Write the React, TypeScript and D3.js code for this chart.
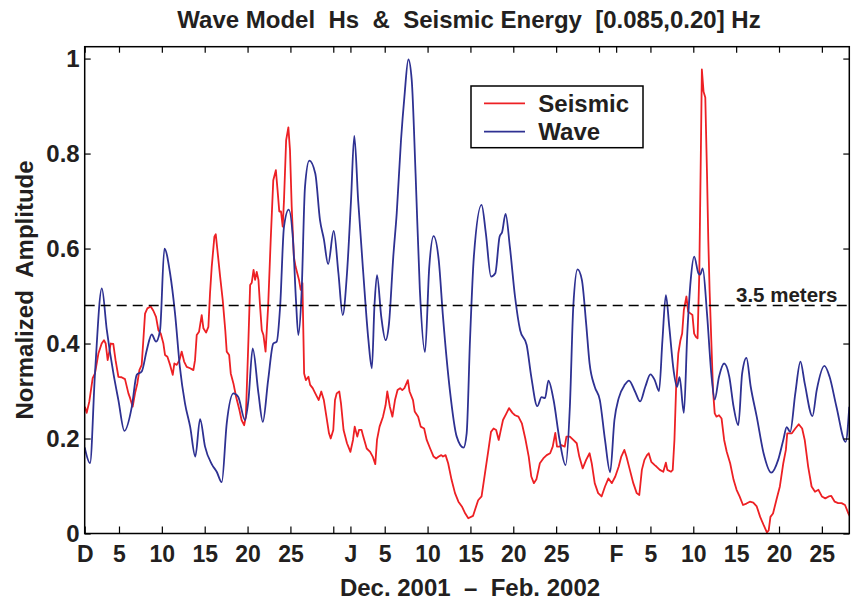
import { useEffect, useRef } from 'react';
import * as d3 from 'd3';

// Days counted from Dec 1 2001 (day 0).
const waveDays = [
  0, 0.62, 1.2, 2.0, 2.57, 3.35, 3.93, 4.63, 5.5, 6.07, 6.65, 7.24, 7.82, 8.32, 8.79, 9.3, 9.96, 10.54,
  11.1, 11.7, 12.3, 12.9, 13.46, 14.04, 14.82, 15.4, 15.99, 16.57, 17.35, 17.9, 18.7, 19.1, 19.6, 20.27,
  20.78, 21.4, 22.0, 22.4, 22.8, 23.25, 23.8, 24.3, 24.65, 24.92, 25.3, 25.7, 26.2, 26.9, 27.45, 27.9,
  28.4, 29.05, 29.6, 30.1, 30.6, 31.07, 31.45, 31.9, 32.5, 33.1, 33.5, 33.8, 34.1, 34.6, 35.1, 35.5,
  36.0, 36.4, 36.9, 37.3, 37.76, 38.15, 38.6, 39.1, 39.7, 40.2, 40.7, 41.3, 41.8, 42.6, 43.4, 44.2,
  44.56, 44.95, 45.4, 46.3, 46.8, 47.4, 47.9, 48.4, 48.7, 49.1, 49.6, 50.2, 50.8, 51.56, 52.1, 52.8,
  53.3, 53.7, 54.1, 54.7, 55.4, 56.1, 56.6, 57.0, 57.5, 58.0, 58.5, 58.9, 59.5, 60.1, 60.7, 61.3, 61.8,
  62.3, 63.0, 63.5, 64.2, 64.8, 65.4, 66.0, 66.5, 67.0, 67.4, 67.8, 68.2, 68.7, 69.1, 69.4, 69.9, 70.3,
  70.7, 71.1, 71.6, 71.8, 72.1, 72.6, 73.1, 73.5, 74.0, 74.6, 75.2, 75.7, 76.25, 76.7, 77.2, 77.7, 78.4,
  79.2, 80.1, 80.9, 81.5, 81.9, 82.3, 82.9, 83.5, 84.0, 84.9, 85.4, 86.3, 86.9, 87.7, 88.77, 89.2,
];
const waveValues = [
  0.181, 0.148, 0.337, 0.516, 0.43, 0.337, 0.281, 0.216, 0.267, 0.334, 0.341, 0.386, 0.419, 0.404, 0.428,
  0.6, 0.548, 0.463, 0.351, 0.274, 0.225, 0.162, 0.241, 0.183, 0.146, 0.13, 0.108, 0.232, 0.295, 0.288,
  0.239, 0.281, 0.39, 0.295, 0.235, 0.323, 0.4, 0.404, 0.478, 0.646, 0.682, 0.618, 0.49, 0.418, 0.506,
  0.73, 0.785, 0.758, 0.66, 0.62, 0.567, 0.637, 0.548, 0.46, 0.548, 0.702, 0.837, 0.702, 0.548, 0.407,
  0.348, 0.478, 0.544, 0.456, 0.407, 0.442, 0.583, 0.674, 0.828, 0.92, 0.998, 0.955, 0.758, 0.513, 0.382,
  0.562, 0.626, 0.576, 0.456, 0.302, 0.204, 0.181, 0.211, 0.407, 0.583, 0.692, 0.632, 0.541, 0.548,
  0.625, 0.635, 0.673, 0.604, 0.499, 0.428, 0.397, 0.33, 0.268, 0.287, 0.285, 0.322, 0.281, 0.197,
  0.144, 0.267, 0.478, 0.556, 0.534, 0.442, 0.358, 0.309, 0.281, 0.197, 0.129, 0.239, 0.285, 0.313,
  0.322, 0.299, 0.278, 0.309, 0.335, 0.323, 0.3, 0.407, 0.502, 0.435, 0.344, 0.309, 0.329, 0.254, 0.421,
  0.534, 0.583, 0.548, 0.545, 0.558, 0.463, 0.337, 0.282, 0.33, 0.358, 0.33, 0.267, 0.228, 0.337, 0.37,
  0.309, 0.246, 0.169, 0.128, 0.155, 0.197, 0.224, 0.214, 0.295, 0.362, 0.316, 0.247, 0.302, 0.353,
  0.33, 0.267, 0.193, 0.267,
];

const seismicDays = [
  0.03, 0.23, 0.54, 0.93, 1.2, 1.6, 1.98, 2.25, 2.45, 2.68, 2.87, 3.03, 3.34, 3.6, 3.93, 4.3, 4.7, 5.1,
  5.3, 5.6, 5.87, 6.14, 6.38, 6.65, 6.84, 7.04, 7.31, 7.7, 8.01, 8.32, 8.6, 8.87, 9.18, 9.37, 9.65, 9.96,
  10.27, 10.46, 10.74, 11.05, 11.32, 11.6, 11.9, 12.3, 12.68, 12.87, 13.07, 13.34, 13.65, 13.85, 14.16,
  14.43, 14.62, 14.82, 15.13, 15.29, 15.48, 15.8, 16.1, 16.4, 16.57, 16.85, 17.04, 17.35, 17.66, 18.05,
  18.3, 18.6, 18.8, 19.1, 19.3, 19.49, 19.7, 19.88, 20.07, 20.27, 20.46, 20.66, 20.85, 21.1, 21.4, 21.7,
  22.0, 22.3, 22.5, 22.7, 22.9, 23.1, 23.25, 23.5, 23.76, 23.95, 24.15, 24.4, 24.6, 24.8, 25.0, 25.2,
  25.4, 25.6, 25.8, 26.1, 26.3, 26.6, 26.9, 27.3, 27.6, 27.9, 28.2, 28.5, 28.7, 29.0, 29.2, 29.4, 29.7,
  29.9, 30.2, 30.6, 31.0, 31.3, 31.5, 31.8, 32.0, 32.3, 32.5, 32.9, 33.3, 33.6, 33.9, 34.1, 34.4, 34.8,
  35.1, 35.3, 35.6, 35.9, 36.2, 36.5, 36.8, 37.05, 37.3, 37.7, 37.9, 38.3, 38.5, 38.9, 39.2, 39.6, 39.9,
  40.3, 40.7, 41.0, 41.3, 41.6, 41.8, 42.1, 42.4, 42.8, 43.2, 43.6, 44.0, 44.4, 44.75, 45.3, 45.9, 46.3,
  46.7, 47.1, 47.4, 47.7, 48.0, 48.3, 48.5, 48.8, 49.2, 49.5, 49.9, 50.2, 50.6, 51.0, 51.4, 51.8, 52.1,
  52.4, 52.7, 53.1, 53.5, 53.9, 54.3, 54.6, 54.9, 55.1, 55.4, 55.6, 56.0, 56.2, 56.6, 57.0, 57.4, 57.7,
  58.1, 58.5, 58.9, 59.15, 59.5, 59.9, 60.3, 60.7, 61.1, 61.5, 61.9, 62.3, 62.6, 62.96, 63.2, 63.6, 64.0,
  64.4, 64.7, 65.0, 65.3, 65.6, 65.8, 66.1, 66.5, 66.7, 67.1, 67.5, 67.8, 67.97, 68.4, 68.6, 68.8, 69.0,
  69.25, 69.5, 69.7, 69.9, 70.2, 70.4, 70.7, 70.9, 71.1, 71.3, 71.5, 71.7, 71.9, 72.0, 72.2, 72.4, 72.6,
  72.75, 72.9, 73.1, 73.3, 73.5, 73.7, 74.0, 74.3, 74.6, 74.9, 75.3, 75.7, 76.05, 76.4, 76.8, 77.2, 77.6,
  78.0, 78.4, 78.8, 79.2, 79.6, 79.8, 80.0, 80.3, 80.7, 81.1, 81.5, 81.8, 81.96, 82.5, 82.9, 83.3, 83.7,
  84.0, 84.4, 84.8, 85.2, 85.6, 86.0, 86.4, 86.8, 87.1, 87.5, 87.9, 88.3, 88.7, 89.1, 89.3,
];
const seismicValues = [
  0.267, 0.254, 0.278, 0.327, 0.337, 0.379, 0.4, 0.407, 0.4, 0.365, 0.383, 0.4, 0.399, 0.365, 0.33,
  0.329, 0.325, 0.295, 0.285, 0.267, 0.295, 0.316, 0.344, 0.355, 0.407, 0.463, 0.474, 0.478, 0.469,
  0.456, 0.428, 0.421, 0.4, 0.376, 0.372, 0.355, 0.334, 0.358, 0.355, 0.365, 0.383, 0.362, 0.351, 0.348,
  0.344, 0.365, 0.418, 0.425, 0.46, 0.432, 0.423, 0.435, 0.506, 0.562, 0.625, 0.63, 0.597, 0.541, 0.492,
  0.428, 0.383, 0.376, 0.337, 0.316, 0.288, 0.26, 0.239, 0.228, 0.246, 0.407, 0.523, 0.528, 0.555,
  0.534, 0.551, 0.534, 0.478, 0.428, 0.418, 0.383, 0.478, 0.618, 0.744, 0.765, 0.723, 0.678, 0.678,
  0.646, 0.702, 0.828, 0.855, 0.807, 0.688, 0.583, 0.562, 0.548, 0.534, 0.513, 0.527, 0.337, 0.323,
  0.33, 0.313, 0.306, 0.295, 0.281, 0.299, 0.281, 0.246, 0.211, 0.2, 0.218, 0.281, 0.295, 0.299, 0.274,
  0.218, 0.19, 0.172, 0.197, 0.225, 0.204, 0.218, 0.218, 0.204, 0.179, 0.172, 0.162, 0.146, 0.197,
  0.225, 0.246, 0.27, 0.299, 0.267, 0.246, 0.281, 0.302, 0.306, 0.302, 0.306, 0.323, 0.299, 0.281,
  0.257, 0.246, 0.225, 0.221, 0.197, 0.179, 0.162, 0.158, 0.162, 0.165, 0.162, 0.165, 0.148, 0.113,
  0.085, 0.067, 0.057, 0.042, 0.032, 0.037, 0.07, 0.078, 0.127, 0.176, 0.214, 0.221, 0.218, 0.197,
  0.214, 0.239, 0.253, 0.264, 0.254, 0.249, 0.246, 0.232, 0.2, 0.162, 0.12, 0.106, 0.114, 0.148, 0.158,
  0.165, 0.169, 0.183, 0.212, 0.183, 0.183, 0.186, 0.183, 0.204, 0.204, 0.197, 0.19, 0.162, 0.137,
  0.155, 0.169, 0.148, 0.106, 0.085, 0.078, 0.099, 0.116, 0.106, 0.12, 0.141, 0.162, 0.176, 0.162,
  0.134, 0.106, 0.085, 0.081, 0.134, 0.155, 0.165, 0.169, 0.151, 0.144, 0.141, 0.134, 0.13, 0.149,
  0.134, 0.13, 0.134, 0.197, 0.309, 0.379, 0.407, 0.421, 0.471, 0.499, 0.467, 0.463, 0.46, 0.421,
  0.414, 0.411, 0.548, 0.828, 0.977, 0.93, 0.918, 0.758, 0.618, 0.513, 0.407, 0.302, 0.253, 0.246,
  0.249, 0.242, 0.197, 0.172, 0.148, 0.113, 0.092, 0.078, 0.06, 0.063, 0.067, 0.065, 0.057, 0.035,
  0.018, 0.002, 0.007, 0.035, 0.042, 0.071, 0.099, 0.148, 0.176, 0.211, 0.211, 0.221, 0.23, 0.221,
  0.197, 0.141, 0.099, 0.088, 0.092, 0.078, 0.074, 0.078, 0.079, 0.067, 0.064, 0.064, 0.06, 0.042, 0.035,
];

const xTickDays = [0, 4, 9, 14, 19, 24, 29, 31, 35, 40, 45, 50, 55, 60, 62, 66, 71, 76, 81, 86];
const xTickLabels = ['D', '5', '10', '15', '20', '25', '', 'J', '5', '10', '15', '20', '25', '', 'F', '5', '10', '15', '20', '25'];
const yTickValues = [0, 0.2, 0.4, 0.6, 0.8, 1];
const yTickLabels = ['0', '0.2', '0.4', '0.6', '0.8', '1'];
const thresholdValue = 0.48;
const thresholdLabel = '3.5 meters';
const seriesNames = ['Seismic', 'Wave'];

const FONT = "'Liberation Sans', Arial, Helvetica, sans-serif";
const INK = '#231f20';
const RED = '#ed2024';
const BLUE = '#2e3192';

export default function App() {
  const ref = useRef<SVGSVGElement | null>(null);

  useEffect(() => {
    const svg = d3.select(ref.current);
    svg.selectAll('*').remove();

    const width = 851;
    const height = 600;
    const margin = { top: 46.7, right: 1.7, bottom: 66.5, left: 84.7 };
    const x = d3.scaleLinear().domain([0, 89.2]).range([margin.left, width - margin.right]);
    const y = d3.scaleLinear().domain([0, 1.025]).range([height - margin.bottom, margin.top]);

    svg.attr('viewBox', `0 0 ${width} ${height}`).attr('width', width).attr('height', height);

    svg.append('defs').append('clipPath').attr('id', 'plot-clip')
      .append('rect')
      .attr('x', margin.left).attr('y', margin.top)
      .attr('width', width - margin.left - margin.right)
      .attr('height', height - margin.top - margin.bottom);

    const seismic = seismicDays.map((d, i) => [d, seismicValues[i]] as [number, number]);
    const wave = waveDays.map((d, i) => [d, waveValues[i]] as [number, number]);

    const plot = svg.append('g').attr('clip-path', 'url(#plot-clip)');
    plot.append('path')
      .attr('d', d3.line<[number, number]>().x((d) => x(d[0])).y((d) => y(d[1]))(seismic))
      .attr('fill', 'none').attr('stroke', RED).attr('stroke-width', 1.8).attr('stroke-linejoin', 'round');
    plot.append('path')
      .attr('d', d3.line<[number, number]>().x((d) => x(d[0])).y((d) => y(d[1])).curve(d3.curveMonotoneX)(wave))
      .attr('fill', 'none').attr('stroke', BLUE).attr('stroke-width', 1.8);

    // 3.5 m significant wave height reference
    plot.append('line')
      .attr('x1', x(0)).attr('x2', x(89.2))
      .attr('y1', y(thresholdValue)).attr('y2', y(thresholdValue))
      .attr('stroke', '#000').attr('stroke-width', 1.4).attr('stroke-dasharray', '10,6');

    const styleAxis = (sel: d3.Selection<SVGGElement, unknown, null, undefined>, size: number) => {
      sel.attr('font-family', FONT).attr('font-size', size).attr('font-weight', 'bold');
      sel.select('.domain').remove();
      sel.selectAll('.tick line').attr('stroke', '#000').attr('stroke-width', 1.2);
      sel.selectAll('.tick text').attr('fill', INK);
    };

    svg.append('g')
      .attr('transform', `translate(0,${y(0)})`)
      .call(d3.axisBottom(x).tickValues(xTickDays).tickFormat((_, i) => xTickLabels[i]).tickSizeInner(-7).tickSizeOuter(0).tickPadding(12))
      .call((s) => styleAxis(s, 23));
    svg.append('g')
      .attr('transform', `translate(0,${margin.top})`)
      .call(d3.axisTop(x).tickValues(xTickDays).tickFormat(() => '').tickSizeInner(-6).tickSizeOuter(0))
      .call((s) => styleAxis(s, 10));
    svg.append('g')
      .attr('transform', `translate(${margin.left},0)`)
      .call(d3.axisLeft(y).tickValues(yTickValues).tickFormat((_, i) => yTickLabels[i]).tickSizeInner(-6).tickSizeOuter(0).tickPadding(5))
      .call((s) => styleAxis(s, 24));
    svg.append('g')
      .attr('transform', `translate(${width - margin.right},0)`)
      .call(d3.axisRight(y).tickValues(yTickValues).tickFormat(() => '').tickSizeInner(-6).tickSizeOuter(0))
      .call((s) => styleAxis(s, 10));

    svg.append('rect')
      .attr('x', margin.left).attr('y', margin.top)
      .attr('width', width - margin.left - margin.right)
      .attr('height', height - margin.top - margin.bottom)
      .attr('fill', 'none').attr('stroke', '#000').attr('stroke-width', 1.5);

    const text = (tx: number, ty: number, s: string, size: number, anchor = 'middle') =>
      svg.append('text')
        .attr('x', tx).attr('y', ty)
        .attr('text-anchor', anchor)
        .attr('font-family', FONT).attr('font-size', size).attr('font-weight', 'bold')
        .attr('fill', INK)
        .style('white-space', 'pre')
        .text(s);

    text(469, 28.3, 'Wave Model  Hs  &  Seismic Energy  [0.085,0.20] Hz', 24);
    text(470, 596, 'Dec. 2001  \u2013  Feb. 2002', 24);
    text(0, 0, 'Normalized  Amplitude', 24).attr('transform', 'translate(33,290) rotate(-90)');
    text(736, 301.7, thresholdLabel, 20.5, 'start');

    // legend
    const legend = svg.append('g');
    legend.append('rect')
      .attr('x', 471).attr('y', 86).attr('width', 172).attr('height', 61.7)
      .attr('fill', '#fff').attr('stroke', '#000').attr('stroke-width', 1.5);
    [RED, BLUE].forEach((c, i) => {
      const ly = 103.3 + i * 28.4;
      legend.append('line')
        .attr('x1', 484).attr('x2', 525).attr('y1', ly).attr('y2', ly)
        .attr('stroke', c).attr('stroke-width', 1.8);
      text(538.3, ly + 8.4, seriesNames[i], 24, 'start');
    });
  }, []);

  return (
    <svg
      ref={ref}
      style={{ position: 'absolute', left: 0, top: 0, display: 'block', background: '#fff' }}
    />
  );
}
